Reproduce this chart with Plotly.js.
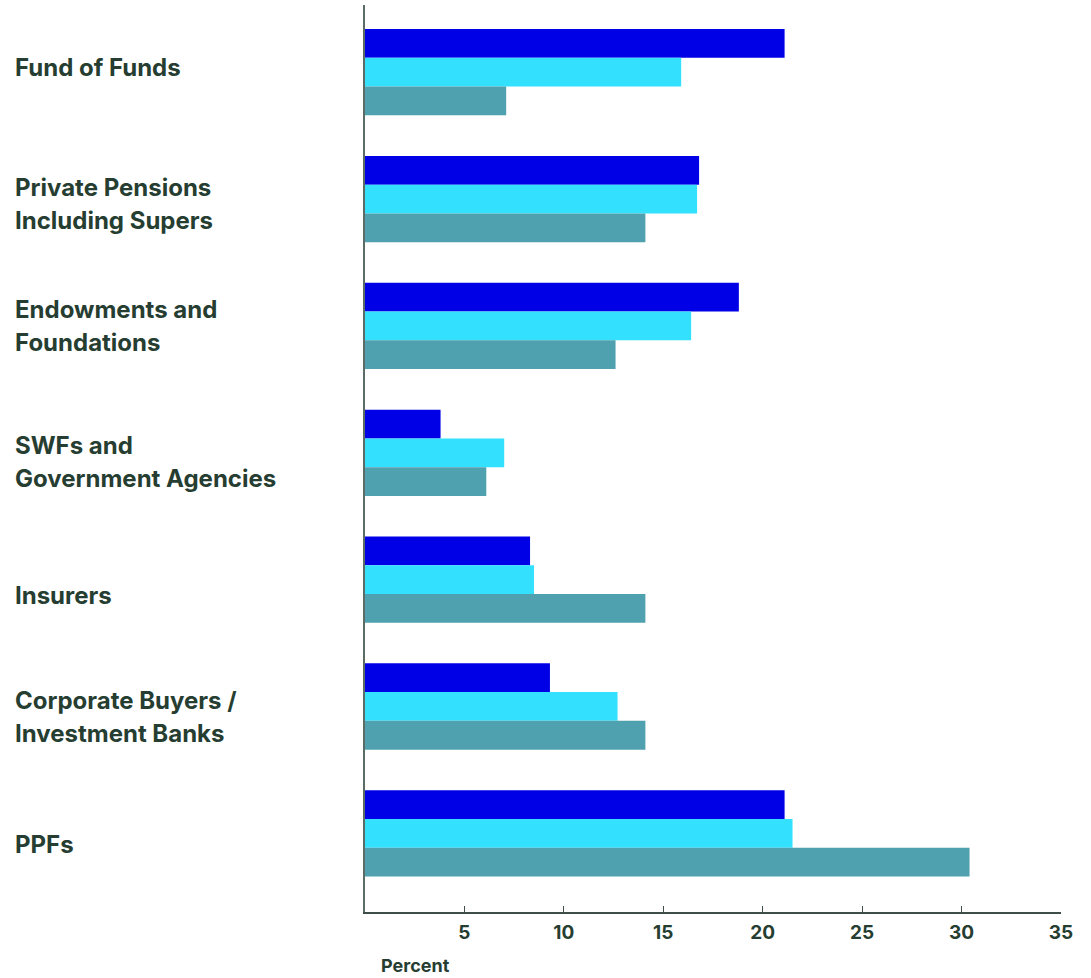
<!DOCTYPE html>
<html>
<head>
<meta charset="utf-8">
<script src="https://cdn.plot.ly/plotly-3.0.1.min.js"></script>
<style>
html,body{margin:0;padding:0;background:#fff;}
#chart{width:1091px;height:978px;}
</style>
</head>
<body>
<div id="chart"></div>
<script>
const categories = ["Fund of Funds", "Private Pensions Including Supers", "Endowments and Foundations", "SWFs and Government Agencies", "Insurers", "Corporate Buyers / Investment Banks", "PPFs"];
const categoryLabels = ["Fund of Funds", "Private Pensions<br>Including Supers", "Endowments and<br>Foundations", "SWFs and<br>Government Agencies", "Insurers", "Corporate Buyers /<br>Investment Banks", "PPFs"];
const seriesNames = ["Series A", "Series B", "Series C"];
const seriesA = [21.1, 16.8, 18.8, 3.8, 8.3, 9.3, 21.1];
const seriesB = [15.9, 16.7, 16.4, 7.0, 8.5, 12.7, 21.5];
const seriesC = [7.1, 14.1, 12.6, 6.1, 14.1, 14.1, 30.4];
const xTicks = [5, 10, 15, 20, 25, 30, 35];
const colors = ["#0000e6", "#33e1ff", "#4fa1b0"];

// layout constants: vertical pixel centre of each label block
const labelCenterPx = [67, 204, 326, 462, 596, 717, 844];
const lineStepPx = 33;

const textColor = "#263d31";
const allSeries = [seriesA, seriesB, seriesC];
const traces = allSeries.map((vals, i) => ({
  type: "bar",
  orientation: "h",
  name: seriesNames[i],
  y: categories,
  x: vals,
  marker: {color: colors[i], line: {width: 0}},
  hoverinfo: "x+y"
}));

const plotW = 696, plotH = 907, plotTop = 5;
const annotations = [];
categoryLabels.forEach((lbl, i) => {
  const lines = lbl.split("<br>");
  lines.forEach((ln, j) => {
    const px = labelCenterPx[i] + (j - (lines.length - 1) / 2) * lineStepPx;
    annotations.push({
      xref: "paper", yref: "paper",
      x: (13 - 365) / plotW, y: (plotTop + plotH - px) / plotH,
      xanchor: "left", yanchor: "middle", align: "left",
      text: ln,
      showarrow: false,
      font: {family: "Inter, sans-serif", size: 24, weight: 700, color: textColor}
    });
  });
});
annotations.push({
  xref: "paper", yref: "paper",
  x: 14 / plotW, y: -53 / plotH,
  xanchor: "left", yanchor: "middle",
  text: "Percent", showarrow: false,
  font: {family: "Inter, sans-serif", size: 18, weight: 700, color: textColor}
});

const layout = {
  width: 1091, height: 978,
  margin: {l: 365, r: 30, t: plotTop, b: 66},
  paper_bgcolor: "#fff", plot_bgcolor: "#fff",
  barmode: "group",
  bargap: 0.32,
  bargroupgap: 0,
  showlegend: false,
  xaxis: {
    range: [0, 35],
    tickvals: xTicks,
    ticktext: xTicks.map(String),
    ticks: "inside", ticklen: 6, tickwidth: 1, tickcolor: "#3d4f48",
    showline: true, linecolor: "#3d4f48", linewidth: 1.5,
    showgrid: false, zeroline: false,
    tickfont: {family: "Inter, sans-serif", size: 19, weight: 700, color: textColor},
    ticklabelstandoff: 3
  },
  yaxis: {
    range: [6.62, -0.53],
    showticklabels: false,
    ticks: "",
    showline: true, linecolor: "#5b6b66", linewidth: 2,
    showgrid: false, zeroline: false
  },
  annotations: annotations
};

Plotly.newPlot("chart", traces, layout, {displayModeBar: false, staticPlot: true});
</script>
</body>
</html>
